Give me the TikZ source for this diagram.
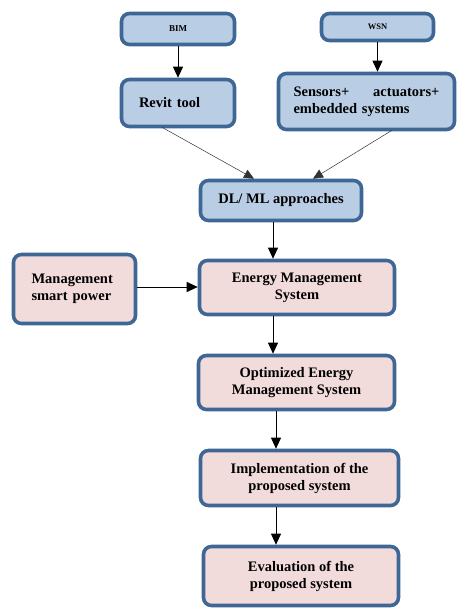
\documentclass[tikz,border=0pt]{standalone}
\usepackage{fontspec}
\setmainfont{Liberation Serif}
\usetikzlibrary{arrows.meta}
\definecolor{bfill}{HTML}{B9CDE5}
\definecolor{pfill}{HTML}{F2DCDB}
\definecolor{edge}{HTML}{3E6795}
\tikzset{
  box/.style={draw=edge, line width=3.6pt, rounded corners=8pt, inner sep=0pt,
    font=\bfseries\fontsize{14.5}{17}\selectfont, align=center},
  bluebox/.style={box, fill=bfill},
  pinkbox/.style={box, fill=pfill},
  arr/.style={-{Triangle[length=11pt,width=10pt]}, line width=0.8pt, black},
  thin arr/.style={-{Triangle[length=10pt,width=9pt]}, line width=0.5pt, black!80},
}
\begin{document}
\begin{tikzpicture}[x=1pt,y=-1pt]
\useasboundingbox (0,0) rectangle (458,609);
\node[bluebox, minimum width=113, minimum height=31, font=\bfseries\fontsize{9}{10}\selectfont] (bim) at (178,29) {BIM};
\node[bluebox, minimum width=112, minimum height=27, font=\bfseries\fontsize{8.5}{10}\selectfont] (wsn) at (377.5,27) {WSN};
\node[bluebox, minimum width=113, minimum height=47, text width=78, align=left] (revit) at (178,103) {Revit tool};
\node[bluebox, minimum width=176, minimum height=56, text width=146, align=left] (sens) at (366.5,101.5) {Sensors+\hfill actuators+\\embedded systems};
\node[bluebox, minimum width=161, minimum height=40] (dl) at (281,200.5) {DL/ ML approaches};
\node[pinkbox, minimum width=122, minimum height=69, text width=86, align=left] (msp) at (74.5,289) {Management\\smart power};
\node[pinkbox, minimum width=195, minimum height=54] (ems) at (297,287.5) {Energy Management\\System};
\node[pinkbox, minimum width=196, minimum height=54] (opt) at (296.5,382.5) {Optimized Energy\\Management System};
\node[pinkbox, minimum width=198, minimum height=55] (impl) at (299.5,478) {Implementation of the\\proposed system};
\node[pinkbox, minimum width=195, minimum height=59] (eval) at (301,576) {Evaluation of the\\proposed system};

\draw[arr] (bim) -- (revit);
\draw[arr] (wsn) -- (wsn |- sens.north);
\draw[thin arr] ([xshift=-16pt,yshift=1pt]revit.south) -- ([xshift=-27pt]dl.north);
\draw[thin arr] ([xshift=25.5pt,yshift=1pt]sens.south) -- ([xshift=32pt]dl.north);
\draw[arr] ([xshift=-8pt]dl.south) -- ([xshift=-8pt]dl.south |- ems.north);
\draw[arr] (msp.east |- 0,287) -- (ems.west |- 0,287);
\draw[arr] ([xshift=-24pt]ems.south) -- ([xshift=-24pt]ems.south |- opt.north);
\draw[arr] ([xshift=-20.5pt]opt.south) -- ([xshift=-20.5pt]opt.south |- impl.north);
\draw[arr] ([xshift=-23.5pt]impl.south) -- ([xshift=-23.5pt]impl.south |- eval.north);
\end{tikzpicture}
\end{document}
